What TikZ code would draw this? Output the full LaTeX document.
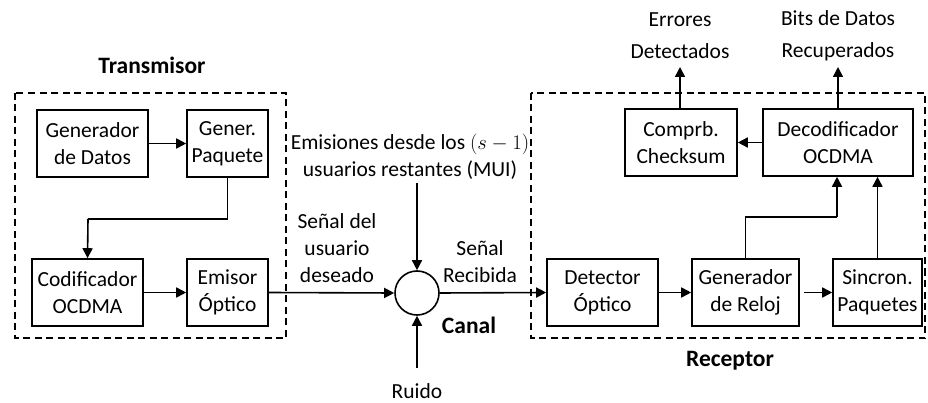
\documentclass[tikz,border=0pt]{standalone}
\usepackage{fontspec}
\setmainfont{Carlito}
\usetikzlibrary{arrows.meta,calc}
\begin{document}
\begin{tikzpicture}[x=1pt,y=-1pt,
  every node/.style={font=\fontsize{21.5}{27}\selectfont, align=center, inner sep=0pt},
  blk/.style={draw, line width=1.6pt, minimum height=67pt},
  arr/.style={line width=1.6pt, -{Triangle[length=10pt,width=10pt]}},
  ln/.style={line width=1.6pt},
  grp/.style={draw, line width=1.6pt, dash pattern=on 7pt off 4.5pt},
  lbl/.style={font=\fontsize{23.5}{28}\selectfont\bfseries},
  outl/.style={font=\fontsize{21.5}{32}\selectfont}]
\useasboundingbox (0,0) rectangle (928,403);
% groups
\draw[grp] (15,93) rectangle (286,338);
\draw[grp] (531,93) rectangle (925,338);
\node[lbl] (ttx) at (152,65) {Transmisor};
\node[lbl] (trx) at (730,361) {Receptor};
\node[lbl] (tch) at (469,325) {Canal};
% transmitter blocks
\node[blk, minimum width=111pt] (gd) at (92.5,143.5) {Generador\\de Datos};
\node[blk, minimum width=81pt] (gp) at (227.5,143.5) {Gener.\\Paquete};
\node[blk, minimum width=111pt] (cod) at (87.5,292.5) {Codificador\\OCDMA};
\node[blk, minimum width=81pt] (em) at (227.5,292.5) {Emisor\\Óptico};
% channel
\node[draw, circle, line width=1.6pt, minimum size=44pt] (ch) at (417,293) {};
\node (mui) at (410,156.5) {Emisiones desde los $(s-1)$\\usuarios restantes (MUI)};
\node (sud) at (337,248.5) {Señal del\\usuario\\deseado};
\node (srec) at (480,261.5) {Señal\\Recibida};
\node (ruido) at (417,391) {Ruido};
\coordinate (muiend) at (417,183);
\coordinate (rdend) at (417,368);
% receiver blocks
\node[blk, minimum width=111pt] (det) at (602.5,292.5) {Detector\\Óptico};
\node[blk, minimum width=107pt] (gr) at (745.5,292.5) {Generador\\de Reloj};
\node[blk, minimum width=89pt] (sp) at (877.5,292.5) {Sincron.\\Paquetes};
\node[blk, minimum width=112pt] (cp) at (681,142.5) {Comprb.\\Checksum};
\node[blk, minimum width=150pt] (dec) at (838,142.5) {Decodificador\\OCDMA};
\node[outl] (err) at (680,36) {Errores\\Detectados};
\node[outl] (bits) at (838,36) {Bits de Datos\\Recuperados};
\coordinate (errend) at (680,67);
\coordinate (bitsend) at (838,67);
\coordinate (b1) at (88,219);
\coordinate (b2) at (837,217);
% connectors
\draw[arr] (gd) -- (gp);
\draw[ln] (gp.south) |- (b1);
\draw[arr] (b1) -- (cod.north);
\draw[arr] (cod) -- (em);
\draw[arr] (em.east) -- (ch.west);
\draw[arr] (muiend) -- (ch.north);
\draw[arr] (rdend) -- (ch.south);
\draw[arr] (ch.east) -- (det.west);
\draw[arr] (det) -- (gr);
\draw[arr] (gr.east) ++(4,0) -- (sp.west);
\draw[ln] (gr.north) |- (b2);
\draw[arr] (b2) -- (b2 |- dec.south);
\draw[arr] (sp.north) -- (sp.north |- dec.south);
\draw[arr] (dec) -- (cp);
\draw[arr] (cp.north -| errend) -- (errend);
\draw[arr] (dec.north) -- (bitsend);
\end{tikzpicture}
\end{document}
